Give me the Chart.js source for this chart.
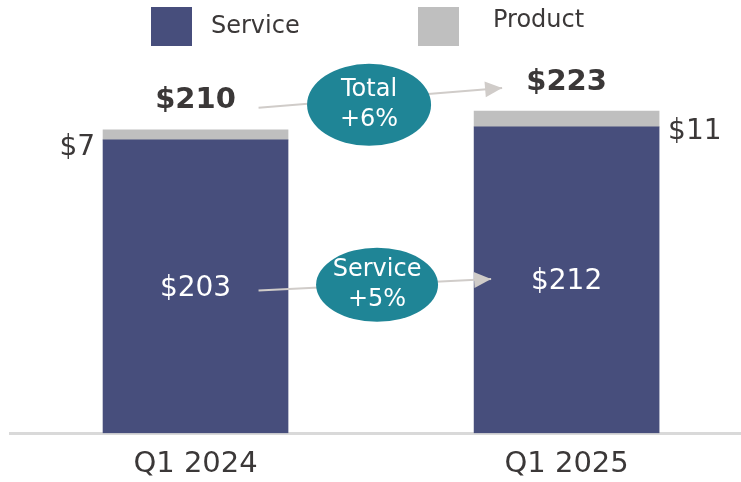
<!DOCTYPE html>
<html>
<head>
<meta charset="utf-8">
<script src="https://cdn.jsdelivr.net/npm/chart.js@4.4.1/dist/chart.umd.min.js"></script>
<style>
  html, body { margin: 0; padding: 0; background: #ffffff; }
  #wrap { width: 741px; height: 482px; }
</style>
</head>
<body>
<div id="wrap"><canvas id="revenueChart" width="741" height="482"></canvas></div>
<script>
// Data
const categories = ["Q1 2024", "Q1 2025"];
const serviceValues = [203, 212];
const productValues = [7, 11];
const totalChangeText = ["Total", "+6%"];
const serviceChangeText = ["Service", "+5%"];

const SERVICE_COLOR = "#474E7C";
const PRODUCT_COLOR = "#BFBFBF";
const TEAL = "#1F8596";
const TEXT_COLOR = "#3B3838";
const FONT = "'DejaVu Sans', Verdana, sans-serif";

/* --------------------------------------------------
   LEGEND (drawn at top, boxes + labels)
-------------------------------------------------- */
const topLegend = {
    id: "topLegend",
    afterDraw(chart) {
        const ctx = chart.ctx;
        const spots = [{ box: 151, text: 211, ty: 27 }, { box: 418, text: 493, ty: 21 }];
        ctx.save();
        ctx.font = "24px " + FONT;
        ctx.textBaseline = "middle";
        ctx.textAlign = "left";
        chart.data.datasets.forEach((ds, i) => {
            const s = spots[i];
            ctx.fillStyle = ds.backgroundColor;
            ctx.fillRect(s.box, 7, 41, 39);
            ctx.fillStyle = TEXT_COLOR;
            ctx.fillText(ds.label, s.text, s.ty);
        });
        ctx.restore();
    }
};

function drawArrow(ctx, x1, y1, x2, y2, head) {
    ctx.beginPath();
    ctx.moveTo(x1, y1);
    ctx.lineTo(x2, y2);
    ctx.stroke();
    if (head) {
        const a = Math.atan2(y2 - y1, x2 - x1);
        ctx.beginPath();
        ctx.moveTo(x2, y2);
        ctx.lineTo(x2 - 17 * Math.cos(a) + 8 * Math.sin(a), y2 - 17 * Math.sin(a) - 8 * Math.cos(a));
        ctx.lineTo(x2 - 17 * Math.cos(a) - 8 * Math.sin(a), y2 - 17 * Math.sin(a) + 8 * Math.cos(a));
        ctx.closePath();
        ctx.fill();
    }
}

function drawBubble(ctx, cx, cy, rx, ry, lines, dy) {
    ctx.fillStyle = TEAL;
    ctx.beginPath();
    ctx.ellipse(cx, cy, rx, ry, 0, 0, Math.PI * 2);
    ctx.fill();
    ctx.fillStyle = "#ffffff";
    ctx.font = "24px " + FONT;
    ctx.textAlign = "center";
    ctx.textBaseline = "middle";
    ctx.fillText(lines[0], cx, cy - dy);
    ctx.fillText(lines[1], cx, cy + dy);
}

/* --------------------------------------------------
   VALUE LABELS + GROWTH CALLOUTS
-------------------------------------------------- */
const callouts = {
    id: "callouts",
    afterDatasetsDraw(chart) {
        const ctx = chart.ctx;
        const svc = chart.getDatasetMeta(0).data;
        const prd = chart.getDatasetMeta(1).data;
        const y = chart.scales.y;
        ctx.save();

        // service values inside bars
        ctx.font = "28px " + FONT;
        ctx.fillStyle = "#ffffff";
        ctx.textAlign = "center";
        ctx.textBaseline = "middle";
        svc.forEach((bar, i) => {
            ctx.fillText("$" + serviceValues[i], bar.x, (bar.y + bar.base) / 2 + 2);
        });

        // product values beside bars
        ctx.fillStyle = TEXT_COLOR;
        ctx.textAlign = "right";
        ctx.fillText("$" + productValues[0], prd[0].x - prd[0].width / 2 - 8, (prd[0].y + prd[0].base) / 2 + 13);
        ctx.textAlign = "left";
        ctx.fillText("$" + productValues[1], prd[1].x + prd[1].width / 2 + 9, (prd[1].y + prd[1].base) / 2 + 13);

        // totals above bars
        ctx.font = "bold 29px " + FONT;
        ctx.textAlign = "center";
        categories.forEach((c, i) => {
            const total = serviceValues[i] + productValues[i];
            ctx.fillText("$" + total, prd[i].x, y.getPixelForValue(total) - 29);
        });

        // arrows
        ctx.strokeStyle = "#D0CCC9";
        ctx.fillStyle = "#D0CCC9";
        ctx.lineWidth = 2;
        const t0 = y.getPixelForValue(serviceValues[0] + productValues[0]);
        const t1 = y.getPixelForValue(serviceValues[1] + productValues[1]);
        drawArrow(ctx, svc[0].x + 63, t0 - 22, prd[1].x - prd[1].width / 2 + 28, t1 - 23, true);
        const s0 = (svc[0].y + svc[0].base) / 2 + 4;
        const s1 = (svc[1].y + svc[1].base) / 2 - 1;
        drawArrow(ctx, svc[0].x + 63, s0, svc[1].x - svc[1].width / 2 + 17, s1, true);

        // teal bubbles
        const mid = (svc[0].x + svc[1].x) / 2;
        drawBubble(ctx, mid - 12, t0 - 25, 62, 41, totalChangeText, 15);
        drawBubble(ctx, mid - 4, (s0 + s1) / 2, 61, 37, serviceChangeText, 15);

        ctx.restore();
    }
};

new Chart(document.getElementById("revenueChart"), {
    type: "bar",
    data: {
        datasets: [
            {
                label: "Service",
                data: serviceValues.map((v, i) => ({ x: i, y: v })),
                backgroundColor: SERVICE_COLOR,
                barThickness: 185
            },
            {
                label: "Product",
                data: productValues.map((v, i) => ({ x: i, y: v })),
                backgroundColor: PRODUCT_COLOR,
                barThickness: 185
            }
        ]
    },
    options: {
        responsive: false,
        animation: false,
        layout: { padding: { top: 72, left: 10, right: 0, bottom: -14 } },
        plugins: {
            legend: { display: false },
            tooltip: { enabled: false }
        },
        scales: {
            x: {
                type: "linear",
                stacked: true,
                offset: false,
                min: -0.5,
                max: 1.47,
                grid: { display: false, drawTicks: false },
                border: { display: true, color: "#D9D9D9", width: 3 },
                afterBuildTicks: (scale) => {
                    scale.ticks = categories.map((c, i) => ({ value: i }));
                },
                ticks: {
                    autoSkip: false,
                    maxRotation: 0,
                    padding: 14,
                    color: TEXT_COLOR,
                    font: { family: FONT, size: 29 },
                    callback: (v) => categories[v]
                }
            },
            y: {
                stacked: true,
                display: false,
                min: 0,
                max: 250
            }
        }
    },
    plugins: [topLegend, callouts]
});
</script>
</body>
</html>
